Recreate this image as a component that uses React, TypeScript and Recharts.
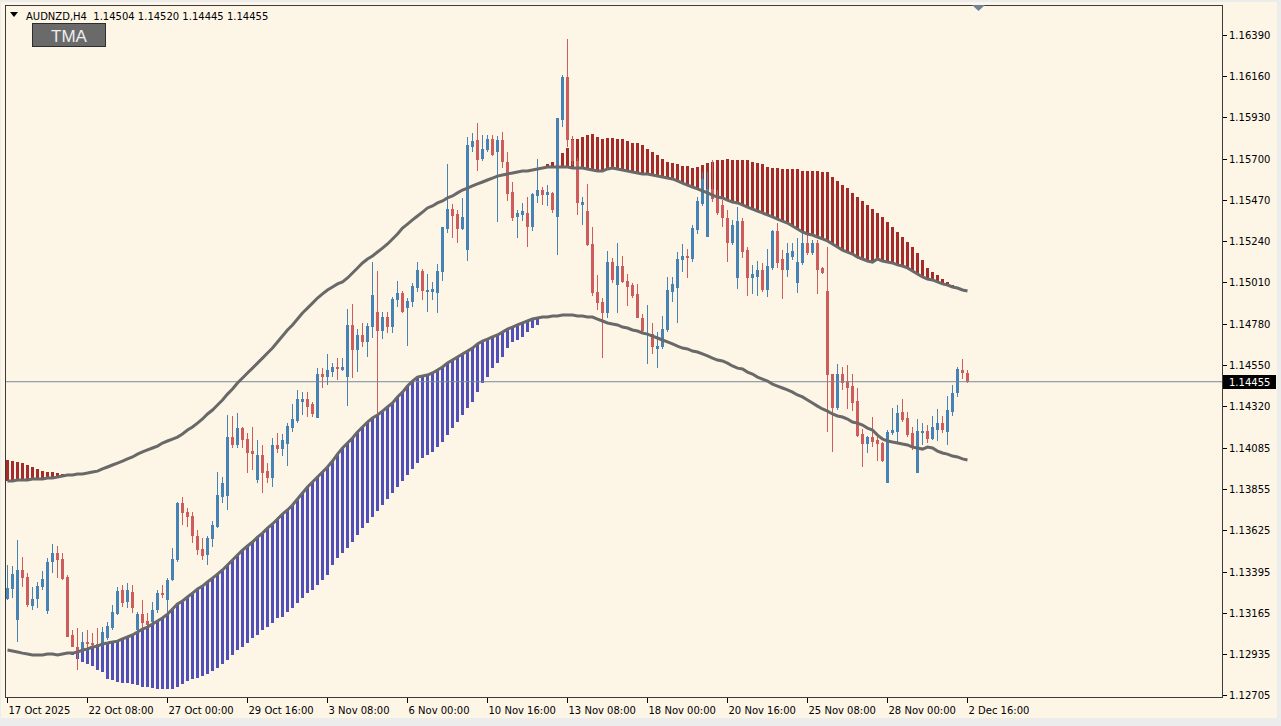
import React from "react";
import { Bar, ComposedChart, Line, ReferenceLine, XAxis, YAxis } from "recharts";

// AUDNZD H4 candles, oldest first
const open = [
  1.13242, 1.13298, 1.13125, 1.13404, 1.13365, 1.13203, 1.13242, 1.13309, 1.13175, 1.13448,
  1.13499, 1.13465, 1.13365, 1.13041, 1.12974, 1.12952, 1.13002, 1.12996, 1.12991, 1.12991,
  1.13024, 1.1308, 1.13158, 1.13292, 1.13225, 1.13281, 1.13069, 1.13158, 1.13119, 1.13113,
  1.1318, 1.13275, 1.13236, 1.13348, 1.1346, 1.13778, 1.13728, 1.13705, 1.13594, 1.13521,
  1.13488, 1.13577, 1.13644, 1.13811, 1.13817, 1.14146, 1.14102, 1.14196, 1.14135, 1.14068,
  1.13906, 1.14046, 1.13956, 1.13917, 1.14102, 1.14079, 1.14107, 1.14196, 1.14236, 1.14342,
  1.14358, 1.14331, 1.14252, 1.14498, 1.14481, 1.14509, 1.14537, 1.1452, 1.14481, 1.14772,
  1.14632, 1.14716, 1.14677, 1.1476, 1.14844, 1.14738, 1.14816, 1.1476, 1.14911, 1.1495,
  1.14866, 1.149, 1.14978, 1.15073, 1.14956, 1.14956, 1.1495, 1.15067, 1.15308, 1.15419,
  1.15391, 1.15308, 1.1519, 1.15765, 1.15804, 1.15698, 1.15749, 1.1581, 1.15737, 1.15804,
  1.15682, 1.15514, 1.15375, 1.15386, 1.15397, 1.15319, 1.15492, 1.15525, 1.15497, 1.15509,
  1.15375, 1.15916, 1.16156, 1.15804, 1.15687, 1.15442, 1.15408, 1.15224, 1.14956, 1.149,
  1.14839, 1.15123, 1.14995, 1.15101, 1.15017, 1.14995, 1.14945, 1.14811, 1.14716, 1.14721,
  1.14638, 1.14649, 1.14744, 1.14956, 1.14978, 1.15134, 1.15157, 1.1514, 1.15302, 1.15447,
  1.15263, 1.15531, 1.15481, 1.15442, 1.15369, 1.15229, 1.15034, 1.15352, 1.1519, 1.15034,
  1.1504, 1.15079, 1.14967, 1.1509, 1.15296, 1.1514, 1.15079, 1.15151, 1.15006, 1.15118,
  1.15229, 1.15174, 1.15229, 1.1509, 1.14961, 1.14498, 1.14308, 1.14498, 1.14459, 1.14431,
  1.14347, 1.14163, 1.14107, 1.14146, 1.1413, 1.14113, 1.1389, 1.14169, 1.14174, 1.14286,
  1.14252, 1.14169, 1.13945, 1.14169, 1.1418, 1.14135, 1.14185, 1.14224, 1.14174, 1.14286,
  1.14392, 1.1452, 1.14504,
];
const high = [
  1.13432, 1.13426, 1.13571, 1.13476, 1.13387, 1.13309, 1.13337, 1.13398, 1.13471, 1.13549,
  1.13538, 1.13499, 1.13376, 1.13069, 1.1308, 1.13058, 1.13069, 1.13052, 1.1308, 1.13085,
  1.13113, 1.13208, 1.13309, 1.1332, 1.13331, 1.1332, 1.13169, 1.13236, 1.13164, 1.13225,
  1.13292, 1.1332, 1.13359, 1.13527, 1.13783, 1.13811, 1.1375, 1.13728, 1.13627, 1.13582,
  1.13594, 1.13677, 1.13951, 1.13923, 1.14269, 1.14264, 1.1428, 1.14202, 1.14169, 1.14202,
  1.1413, 1.14102, 1.14001, 1.14141, 1.14169, 1.14163, 1.14224, 1.14331, 1.14409, 1.14397,
  1.14397, 1.14342, 1.14531, 1.14531, 1.1461, 1.14559, 1.14587, 1.14587, 1.14861, 1.14889,
  1.14749, 1.14783, 1.14783, 1.15123, 1.15073, 1.14844, 1.14844, 1.14928, 1.15017, 1.14961,
  1.14922, 1.15006, 1.15123, 1.15084, 1.15056, 1.15012, 1.15112, 1.15319, 1.1567, 1.15447,
  1.15414, 1.15481, 1.15821, 1.15844, 1.15899, 1.15832, 1.15832, 1.15832, 1.15827, 1.15849,
  1.15737, 1.1557, 1.15414, 1.15453, 1.15486, 1.15509, 1.15698, 1.15542, 1.15553, 1.15514,
  1.15927, 1.16167, 1.16368, 1.15827, 1.15704, 1.15486, 1.15559, 1.15319, 1.15051, 1.14922,
  1.15185, 1.15146, 1.15229, 1.15157, 1.15056, 1.15006, 1.15001, 1.14833, 1.14883, 1.14783,
  1.14732, 1.14822, 1.1504, 1.1504, 1.15179, 1.15224, 1.15196, 1.1533, 1.15486, 1.15626,
  1.15626, 1.15693, 1.15525, 1.15469, 1.15414, 1.15358, 1.1543, 1.15369, 1.15207, 1.15107,
  1.15129, 1.15118, 1.15196, 1.15302, 1.15341, 1.1519, 1.15229, 1.15229, 1.15257, 1.15285,
  1.15274, 1.15246, 1.15246, 1.15095, 1.15207, 1.14498, 1.14554, 1.14537, 1.14548, 1.14498,
  1.1442, 1.14191, 1.14152, 1.14258, 1.14169, 1.14118, 1.14185, 1.14308, 1.14325, 1.14358,
  1.14286, 1.14202, 1.14247, 1.14224, 1.14213, 1.14264, 1.14303, 1.14264, 1.14375, 1.14437,
  1.14537, 1.14582, 1.1452,
];
const low = [
  1.13236, 1.13247, 1.13002, 1.13309, 1.13197, 1.1318, 1.13192, 1.13292, 1.13158, 1.13387,
  1.13359, 1.13348, 1.1303, 1.12974, 1.12845, 1.1294, 1.12968, 1.12968, 1.12974, 1.12974,
  1.13013, 1.13069, 1.13153, 1.13197, 1.13192, 1.13164, 1.13052, 1.1308, 1.1308, 1.13097,
  1.13164, 1.13247, 1.13169, 1.13342, 1.13448, 1.13655, 1.13644, 1.13555, 1.13488, 1.1346,
  1.13432, 1.13532, 1.13638, 1.13778, 1.13739, 1.14085, 1.14085, 1.14085, 1.13945, 1.13962,
  1.1389, 1.13834, 1.1389, 1.13867, 1.14057, 1.1404, 1.13984, 1.14174, 1.14224, 1.14269,
  1.14258, 1.14258, 1.14252, 1.1442, 1.14437, 1.14481, 1.14465, 1.14515, 1.14319, 1.14476,
  1.14509, 1.14649, 1.14593, 1.14699, 1.1428, 1.14693, 1.14727, 1.14727, 1.14872, 1.14839,
  1.14654, 1.14872, 1.14956, 1.14911, 1.14844, 1.14911, 1.14839, 1.15017, 1.15285, 1.15257,
  1.15229, 1.15302, 1.15129, 1.15737, 1.15631, 1.15687, 1.15737, 1.15715, 1.15347, 1.15648,
  1.15464, 1.15352, 1.15257, 1.15352, 1.15207, 1.15296, 1.15453, 1.15442, 1.15436, 1.15397,
  1.15162, 1.15877, 1.15765, 1.15665, 1.15386, 1.1533, 1.15213, 1.14933, 1.14855, 1.14587,
  1.14811, 1.15006, 1.14839, 1.15006, 1.14878, 1.14922, 1.14811, 1.14727, 1.14554, 1.1461,
  1.14531, 1.14638, 1.14732, 1.149, 1.14783, 1.15067, 1.15034, 1.15123, 1.1528, 1.15436,
  1.15263, 1.15458, 1.15386, 1.15319, 1.15123, 1.15218, 1.14973, 1.15146, 1.14933, 1.14945,
  1.14933, 1.14956, 1.14928, 1.15079, 1.1509, 1.14917, 1.1504, 1.15134, 1.1495, 1.15107,
  1.15162, 1.15162, 1.14945, 1.15056, 1.14174, 1.14063, 1.14297, 1.14409, 1.14303, 1.14291,
  1.14146, 1.13979, 1.14057, 1.1409, 1.14012, 1.14007, 1.1389, 1.14157, 1.14118, 1.1423,
  1.14146, 1.14074, 1.13945, 1.14102, 1.14113, 1.1413, 1.14124, 1.14169, 1.14102, 1.14264,
  1.1437, 1.1447, 1.14445,
];
const close = [
  1.13303, 1.13381, 1.13404, 1.13359, 1.13208, 1.13242, 1.13314, 1.13354, 1.13448, 1.13499,
  1.1346, 1.13354, 1.1303, 1.12974, 1.12946, 1.13002, 1.12991, 1.12985, 1.12979, 1.13058,
  1.13091, 1.13169, 1.13286, 1.1322, 1.13292, 1.13192, 1.13158, 1.13108, 1.13097, 1.1318,
  1.13275, 1.13264, 1.13348, 1.13465, 1.13778, 1.13722, 1.137, 1.13594, 1.13515, 1.13482,
  1.13582, 1.13655, 1.13822, 1.1389, 1.14146, 1.14102, 1.14196, 1.1413, 1.14057, 1.14051,
  1.14046, 1.13945, 1.13917, 1.14102, 1.14079, 1.1413, 1.14208, 1.14247, 1.14358, 1.14358,
  1.14314, 1.14275, 1.14498, 1.14481, 1.1452, 1.14537, 1.14526, 1.14537, 1.14772, 1.14632,
  1.14716, 1.14677, 1.14766, 1.14939, 1.14738, 1.14816, 1.1476, 1.14917, 1.1495, 1.14844,
  1.14906, 1.14989, 1.15079, 1.14961, 1.14967, 1.14973, 1.15073, 1.15319, 1.15419, 1.1538,
  1.15308, 1.15375, 1.15777, 1.15799, 1.15693, 1.15754, 1.1581, 1.15721, 1.15804, 1.15682,
  1.15503, 1.15369, 1.15397, 1.15408, 1.15319, 1.15503, 1.15525, 1.15497, 1.15514, 1.15414,
  1.15927, 1.16156, 1.15804, 1.15687, 1.15453, 1.15458, 1.15218, 1.1495, 1.14894, 1.14839,
  1.15123, 1.15023, 1.15101, 1.15012, 1.14984, 1.14933, 1.14811, 1.14738, 1.14727, 1.14649,
  1.14654, 1.14749, 1.14967, 1.15001, 1.1514, 1.15157, 1.15146, 1.15313, 1.15464, 1.15587,
  1.15531, 1.15475, 1.15397, 1.15369, 1.15229, 1.1533, 1.15352, 1.15179, 1.15034, 1.15056,
  1.15079, 1.14967, 1.15101, 1.15296, 1.15118, 1.15079, 1.15174, 1.15185, 1.15123, 1.15229,
  1.15174, 1.15229, 1.15079, 1.15062, 1.14492, 1.14308, 1.14498, 1.14448, 1.1442, 1.14336,
  1.14152, 1.14107, 1.14146, 1.14118, 1.14107, 1.14012, 1.14174, 1.14185, 1.1428, 1.14241,
  1.14157, 1.14096, 1.1418, 1.1418, 1.14135, 1.14202, 1.14224, 1.14185, 1.14297, 1.14392,
  1.14526, 1.14504, 1.14455,
];

// TMA bands
const upperBand = [
  1.13901, 1.13901, 1.13906, 1.13906, 1.13906, 1.13912, 1.13912, 1.13912, 1.13917, 1.13917,
  1.13923, 1.13929, 1.13934, 1.13934, 1.1394, 1.1394, 1.13945, 1.13951, 1.13956, 1.13968,
  1.13979, 1.1399, 1.14001, 1.14012, 1.14024, 1.14035, 1.14051, 1.14063, 1.14074, 1.14085,
  1.14096, 1.14113, 1.14124, 1.14135, 1.14146, 1.14163, 1.14185, 1.14202, 1.14224, 1.14247,
  1.14275, 1.14297, 1.14325, 1.14353, 1.14386, 1.14414, 1.14448, 1.14476, 1.14504, 1.14531,
  1.14559, 1.14587, 1.14615, 1.14643, 1.14677, 1.1471, 1.14744, 1.14772, 1.14805, 1.14839,
  1.14866, 1.14894, 1.14922, 1.14945, 1.14967, 1.14984, 1.15001, 1.15012, 1.15034, 1.15062,
  1.1509, 1.15118, 1.1514, 1.15157, 1.15179, 1.15201, 1.15224, 1.15252, 1.1528, 1.15313,
  1.15335, 1.15358, 1.1538, 1.15402, 1.15425, 1.15436, 1.15453, 1.15464, 1.15481, 1.15492,
  1.15509, 1.15525, 1.15536, 1.15548, 1.15559, 1.1557, 1.15581, 1.15592, 1.15603, 1.15609,
  1.15615, 1.1562, 1.15626, 1.15631, 1.15631, 1.15637, 1.15643, 1.15648, 1.15654, 1.15654,
  1.15654, 1.15654, 1.15654, 1.15648, 1.15648, 1.15648, 1.15643, 1.15637, 1.15631, 1.15631,
  1.15643, 1.15648, 1.15643, 1.15637, 1.15631, 1.15626, 1.1562, 1.15615, 1.15615, 1.15609,
  1.15603, 1.15598, 1.15592, 1.15587, 1.15576, 1.15564, 1.15553, 1.15542, 1.15531, 1.1552,
  1.15509, 1.15497, 1.15486, 1.15481, 1.15469, 1.15458, 1.15453, 1.15442, 1.1543, 1.15419,
  1.15408, 1.15397, 1.15386, 1.15375, 1.15363, 1.15352, 1.15341, 1.15324, 1.15308, 1.15291,
  1.1528, 1.15274, 1.15263, 1.15252, 1.15241, 1.15224, 1.15207, 1.1519, 1.15179, 1.15168,
  1.15151, 1.1514, 1.15129, 1.15123, 1.1514, 1.15129, 1.15123, 1.15118, 1.15107, 1.15101,
  1.1509, 1.15073, 1.15056, 1.1504, 1.15028, 1.15023, 1.15012, 1.15001, 1.14995, 1.14984,
  1.14978, 1.14967, 1.14961,
];
const lowerBand = [
  1.12957, 1.12952, 1.12946, 1.1294, 1.12935, 1.12929, 1.12929, 1.12929, 1.12935, 1.12935,
  1.12929, 1.12935, 1.1294, 1.1294, 1.12946, 1.12957, 1.12963, 1.12974, 1.12979, 1.12991,
  1.12996, 1.13002, 1.13007, 1.13019, 1.1303, 1.13041, 1.13058, 1.13074, 1.13085, 1.13102,
  1.13119, 1.13136, 1.13158, 1.13186, 1.13214, 1.13231, 1.13253, 1.13275, 1.13298, 1.13314,
  1.13337, 1.13359, 1.13381, 1.13404, 1.13432, 1.1346, 1.13488, 1.13515, 1.13538, 1.1356,
  1.13588, 1.1361, 1.13638, 1.13661, 1.13689, 1.13716, 1.13739, 1.13767, 1.138, 1.13834,
  1.13867, 1.13895, 1.13923, 1.13951, 1.13979, 1.14012, 1.14051, 1.14085, 1.14113, 1.14141,
  1.14174, 1.14202, 1.1423, 1.14252, 1.14269, 1.14291, 1.14314, 1.14336, 1.1437, 1.14397,
  1.14431, 1.14459, 1.14481, 1.14487, 1.14492, 1.14504, 1.1452, 1.14537, 1.14559, 1.14576,
  1.14593, 1.1461, 1.14626, 1.14643, 1.14666, 1.14682, 1.14693, 1.14705, 1.14716, 1.14732,
  1.14749, 1.1476, 1.14772, 1.14783, 1.14794, 1.14805, 1.14811, 1.14816, 1.14816, 1.14822,
  1.14822, 1.14827, 1.14827, 1.14827, 1.14822, 1.14822, 1.14816, 1.14816, 1.14805, 1.14794,
  1.14783, 1.14777, 1.14772, 1.1476, 1.14755, 1.14744, 1.14738, 1.14727, 1.14721, 1.1471,
  1.14699, 1.14688, 1.14677, 1.14666, 1.14654, 1.14643, 1.14638, 1.14626, 1.14621, 1.1461,
  1.14599, 1.14587, 1.14576, 1.14571, 1.14559, 1.14543, 1.14531, 1.14526, 1.14509, 1.14498,
  1.14481, 1.1447, 1.14459, 1.14442, 1.14431, 1.1442, 1.14409, 1.14397, 1.14381, 1.1437,
  1.14353, 1.14336, 1.14319, 1.14303, 1.14291, 1.14275, 1.14264, 1.14258, 1.14247, 1.1423,
  1.14224, 1.14213, 1.14196, 1.14185, 1.14157, 1.14135, 1.14124, 1.14118, 1.14113, 1.14107,
  1.14102, 1.1409, 1.14085, 1.14079, 1.1409, 1.14085, 1.14068, 1.14057, 1.14051, 1.1404,
  1.14035, 1.14024, 1.14018,
];

// histogram ends outside the bands
const redHistLeftStart = 0;
const redHistLeft = [
  1.14018, 1.14012, 1.14007, 1.14001, 1.1399, 1.13979, 1.13968, 1.13956, 1.13951, 1.13951, 1.13945, 1.1394,
];
const blueHistStart = 13;
const blueHist = [
  1.12929, 1.12907, 1.1289, 1.12879, 1.12868, 1.12845, 1.12834, 1.12795, 1.1279, 1.12778,
  1.12773, 1.12773, 1.12767, 1.12762, 1.12751, 1.12751, 1.12745, 1.12739, 1.12739, 1.12739,
  1.12739, 1.12751, 1.12767, 1.12784, 1.12795, 1.12801, 1.12812, 1.12823, 1.1284, 1.12857,
  1.12879, 1.12901, 1.12929, 1.12957, 1.12974, 1.12996, 1.13024, 1.13041, 1.13069, 1.13085,
  1.13108, 1.13136, 1.13141, 1.13169, 1.13192, 1.1322, 1.13247, 1.13275, 1.13292, 1.1332,
  1.13348, 1.13376, 1.13432, 1.13471, 1.13499, 1.13527, 1.1356, 1.13599, 1.13638, 1.13666,
  1.137, 1.13733, 1.13767, 1.138, 1.13834, 1.13867, 1.13901, 1.13934, 1.13968, 1.14001,
  1.14029, 1.14046, 1.14063, 1.1409, 1.14118, 1.14157, 1.14196, 1.1423, 1.14269, 1.14308,
  1.14342, 1.14397, 1.14448, 1.14481, 1.14531, 1.14559, 1.14593, 1.14643, 1.14677, 1.14688,
  1.14705, 1.14732, 1.14755, 1.14772,
];
const redHistStart = 108;
const redHist = [
  1.1567, 1.15682, 1.15698, 1.15732, 1.1576, 1.1581, 1.1581, 1.15821, 1.15832, 1.15838,
  1.15821, 1.1581, 1.15816, 1.15816, 1.1581, 1.1581, 1.15799, 1.15788, 1.15788, 1.15777,
  1.15754, 1.15737, 1.15721, 1.15698, 1.15682, 1.15676, 1.1567, 1.15659, 1.15659, 1.15648,
  1.15654, 1.15665, 1.15676, 1.15682, 1.15693, 1.15693, 1.15698, 1.15693, 1.15693, 1.15693,
  1.15693, 1.15682, 1.15676, 1.1567, 1.15654, 1.15648, 1.15648, 1.15643, 1.15643, 1.15643,
  1.15643, 1.15631, 1.15631, 1.15631, 1.15631, 1.15626, 1.15626, 1.15598, 1.15576, 1.15553,
  1.15536, 1.15509, 1.15486, 1.15464, 1.15442, 1.15419, 1.15397, 1.15375, 1.15347, 1.15319,
  1.15291, 1.15263, 1.15235, 1.15207, 1.15174, 1.15134, 1.1509, 1.15067, 1.15051, 1.15028,
  1.15012, 1.14995,
];

const dateTicks = [0, 16, 32, 48, 64, 80, 96, 112, 128, 144, 160, 176, 192];
const dateLabels = [
  "17 Oct 2025", "22 Oct 08:00", "27 Oct 00:00", "29 Oct 16:00", "3 Nov 08:00", "6 Nov 00:00",
  "10 Nov 16:00", "13 Nov 08:00", "18 Nov 00:00", "20 Nov 16:00", "25 Nov 08:00", "28 Nov 00:00",
  "2 Dec 16:00",
];
const priceTicks = [
  1.1639, 1.1616, 1.1593, 1.157, 1.1547, 1.1524, 1.1501, 1.1478, 1.1455, 1.1432,
  1.14085, 1.13855, 1.13625, 1.13395, 1.13165, 1.12935, 1.12705,
];
const lastPrice = 1.14455;

const BULL = "#4682B4";
const BEAR = "#CD5C5C";
const FONT = "DejaVu Sans, Verdana, sans-serif";

const rows = open.map((o, i) => {
  const r = i - redHistLeftStart < redHistLeft.length ? redHistLeft[i - redHistLeftStart] : redHist[i - redHistStart];
  const b = blueHist[i - blueHistStart];
  return {
    i,
    o,
    h: high[i],
    l: low[i],
    c: close[i],
    range: [low[i], high[i]],
    upper: upperBand[i],
    lower: lowerBand[i],
    red: r != null ? [upperBand[i], r] : null,
    blue: b != null ? [b, lowerBand[i]] : null,
  };
});

function Candle(props: any) {
  const { x, y, width, height, payload } = props;
  if (x == null || y == null || !payload) return <g />;
  const { o, h, l, c } = payload;
  const cx = Math.floor(x + width / 2);
  const span = h - l || 1e-9;
  const yOf = (v: number) => y + ((h - v) / span) * height;
  const color = c > o ? BULL : BEAR;
  const top = Math.round(Math.min(yOf(o), yOf(c)));
  const bot = Math.round(Math.max(yOf(o), yOf(c)));
  return (
    <g>
      <rect x={cx} y={Math.round(y)} width={1} height={Math.max(1, Math.round(height))} fill={color} />
      <rect x={cx - 1} y={top} width={3} height={Math.max(1, bot - top)} fill={color} />
    </g>
  );
}

function histShape(color: string, key: "red" | "blue") {
  return (props: any) => {
    const { x, y, width, height, payload } = props;
    if (!payload || !payload[key] || x == null || y == null) return <g />;
    const cx = Math.floor(x + width / 2);
    const top = Math.round(height < 0 ? y + height : y);
    const h = Math.round(Math.abs(height));
    return <rect x={cx - 1} y={top} width={3} height={Math.max(1, h)} fill={color} />;
  };
}

function DateTick({ x, y, payload }: any) {
  const label = dateLabels[dateTicks.indexOf(payload.value)];
  const px = Math.floor(x) + 0.5;
  return (
    <g>
      <line x1={px} x2={px} y1={y} y2={y + 6} stroke="#000" />
      <text x={px + 1} y={y + 17} fontSize={10} fill="#000" fontFamily={FONT}>
        {label}
      </text>
    </g>
  );
}

function PriceTick({ x, y, payload }: any) {
  const py = Math.round(y) + 0.5;
  return (
    <g>
      <line x1={x + 1} x2={x + 5} y1={py} y2={py} stroke="#000" />
      <text x={x + 7} y={py + 3.5} fontSize={10} fill="#000" fontFamily={FONT}>
        {Number(payload.value).toFixed(5)}
      </text>
    </g>
  );
}

function PriceTag(props: any) {
  const vb = props.viewBox || {};
  const x = (vb.x || 0) + (vb.width || 0);
  const y = Math.round(vb.y || 0);
  return (
    <g>
      <rect x={x + 1} y={y - 7} width={53} height={14} fill="#000" />
      <text x={x + 7} y={y + 4} fontSize={10} fill="#fff" fontFamily={FONT}>
        {lastPrice.toFixed(5)}
      </text>
    </g>
  );
}

export default function App() {
  return (
    <div style={{ position: "absolute", left: 0, top: 0, width: 1281, height: 726, background: "#ECECEC", overflow: "hidden" }}>
      <div style={{ position: "absolute", left: 1, top: 2, width: 1276, height: 716, background: "#FDF5E6" }} />
      <div style={{ position: "absolute", left: 0, top: 0 }}>
        <ComposedChart
          width={1281}
          height={726}
          data={rows}
          margin={{ top: 5, right: 0, bottom: 0, left: 5 }}
          barGap={-3}
          barSize={3}
          style={{ fontFamily: FONT }}
        >
          <XAxis
            dataKey="i"
            type="number"
            domain={[-0.5, 242.9]}
            allowDataOverflow
            ticks={dateTicks}
            interval={0}
            height={29}
            tickSize={0}
            tickMargin={0}
            axisLine={false}
            tickLine={false}
            tick={<DateTick />}
          />
          <YAxis
            orientation="right"
            type="number"
            domain={[1.12695, 1.16558]}
            allowDataOverflow
            ticks={priceTicks}
            interval={0}
            width={59}
            tickSize={0}
            tickMargin={0}
            axisLine={false}
            tickLine={false}
            tick={<PriceTick />}
          />
          <Bar dataKey="red" barSize={3} shape={histShape("#A52A2A", "red")} isAnimationActive={false} />
          <Bar dataKey="blue" barSize={3} shape={histShape("#5050B8", "blue")} isAnimationActive={false} />
          <ReferenceLine y={lastPrice} stroke="#778899" strokeWidth={1} label={<PriceTag />} />
          <Line
            dataKey="upper"
            type="linear"
            stroke="#696969"
            strokeWidth={3}
            dot={false}
            activeDot={false}
            isAnimationActive={false}
          />
          <Line
            dataKey="lower"
            type="linear"
            stroke="#696969"
            strokeWidth={3}
            dot={false}
            activeDot={false}
            isAnimationActive={false}
          />
          <Bar dataKey="range" barSize={3} shape={<Candle />} isAnimationActive={false} />
        </ComposedChart>
      </div>
      <svg width={1281} height={726} style={{ position: "absolute", left: 0, top: 0, pointerEvents: "none" }}>
        <rect x={5.5} y={5.5} width={1217} height={692} fill="none" stroke="#3c3c3c" />
        <polygon points="10,12 18,12 14,17" fill="#000" />
        <text x={26} y={20} fontSize={10} fill="#000" fontFamily={FONT} style={{ whiteSpace: "pre" }}>
          {"AUDNZD,H4  1.14504 1.14520 1.14445 1.14455"}
        </text>
        <rect x={32.5} y={23.5} width={73} height={23} fill="#6A6A6A" stroke="#2e2e2e" />
        <text x={69} y={41.5} fontSize={17} fill="#EDEDED" textAnchor="middle" fontFamily="Liberation Sans, Arial, sans-serif">
          TMA
        </text>
        <polygon points="972,5 985,5 978.5,11" fill="#6F8296" />
      </svg>
    </div>
  );
}
